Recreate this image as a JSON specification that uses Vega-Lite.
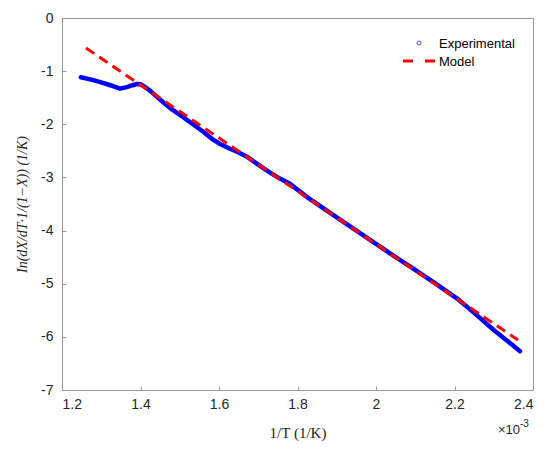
{
  "$schema": "https://vega.github.io/schema/vega-lite/v6.json",
  "width": 471,
  "height": 372,
  "autosize": "none",
  "padding": {"left": 62, "top": 18, "right": 17, "bottom": 62},
  "background": "#ffffff",
  "config": {
    "view": {"stroke": "#999999", "strokeWidth": 1},
    "axis": {
      "domainColor": "#999999",
      "ticks": false,
      "grid": true,
      "gridColor": "#999999",
      "gridOpacity": 1,
      "gridWidth": 1,
      "labelColor": "#262626",
      "labelFont": "Liberation Sans",
      "labelFontSize": 14,
      "titleFont": "Liberation Serif",
      "titleFontWeight": "normal",
      "titleColor": "#262626",
      "titleFontSize": 15
    }
  },
  "datasets": {
    "experimental": [
      {"invT": 0.001248, "lnrate": -1.116},
      {"invT": 0.001275, "lnrate": -1.16},
      {"invT": 0.0013, "lnrate": -1.21},
      {"invT": 0.001325, "lnrate": -1.27},
      {"invT": 0.001348, "lnrate": -1.33},
      {"invT": 0.001365, "lnrate": -1.3},
      {"invT": 0.00138, "lnrate": -1.265},
      {"invT": 0.001392, "lnrate": -1.24},
      {"invT": 0.0014, "lnrate": -1.245},
      {"invT": 0.00141, "lnrate": -1.29},
      {"invT": 0.001425, "lnrate": -1.37},
      {"invT": 0.00144, "lnrate": -1.47},
      {"invT": 0.001457, "lnrate": -1.58},
      {"invT": 0.00148, "lnrate": -1.72},
      {"invT": 0.001508, "lnrate": -1.86},
      {"invT": 0.00153, "lnrate": -1.98},
      {"invT": 0.00156, "lnrate": -2.14},
      {"invT": 0.001585, "lnrate": -2.29},
      {"invT": 0.001603, "lnrate": -2.37},
      {"invT": 0.001628, "lnrate": -2.46},
      {"invT": 0.00165, "lnrate": -2.53},
      {"invT": 0.001671, "lnrate": -2.61},
      {"invT": 0.0017, "lnrate": -2.76},
      {"invT": 0.00173, "lnrate": -2.91},
      {"invT": 0.00175, "lnrate": -3.0},
      {"invT": 0.001781, "lnrate": -3.12},
      {"invT": 0.001798, "lnrate": -3.22},
      {"invT": 0.00183, "lnrate": -3.4},
      {"invT": 0.00187, "lnrate": -3.6},
      {"invT": 0.001916, "lnrate": -3.83},
      {"invT": 0.00195, "lnrate": -4.0},
      {"invT": 0.002, "lnrate": -4.25},
      {"invT": 0.00205, "lnrate": -4.5},
      {"invT": 0.002094, "lnrate": -4.71},
      {"invT": 0.00215, "lnrate": -4.99},
      {"invT": 0.002206, "lnrate": -5.275},
      {"invT": 0.002247, "lnrate": -5.53},
      {"invT": 0.0023, "lnrate": -5.87},
      {"invT": 0.002367, "lnrate": -6.27}
    ],
    "model": [
      {"invT": 0.001261, "lnrate": -0.565},
      {"invT": 0.002362, "lnrate": -6.06}
    ],
    "legendLine": [
      {"invT": 0.0020688, "lnrate": -0.809},
      {"invT": 0.0021503, "lnrate": -0.809}
    ],
    "legendMarker": [
      {"invT": 0.0021096, "lnrate": -0.47}
    ],
    "legendText": [
      {"invT": 0.0021605, "lnrate": -0.489, "label": "Experimental"},
      {"invT": 0.0021605, "lnrate": -0.828, "label": "Model"}
    ],
    "exponent": [
      {"invT": 0.0023669, "lnrate": -7, "base": "×10", "power": "-3"}
    ]
  },
  "encoding": {
    "x": {
      "field": "invT",
      "type": "quantitative",
      "scale": {"domain": [0.0012, 0.0024], "nice": false, "zero": false},
      "axis": {
        "values": [0.0012, 0.0014, 0.0016, 0.0018, 0.002, 0.0022, 0.0024],
        "labelExpr": "toString(round(datum.value * 10000) / 10)",
        "gridDash": [0, 368, 4, 1000],
        "labelPadding": 7,
        "title": "1/T (1/K)",
        "titlePadding": 14
      }
    },
    "y": {
      "field": "lnrate",
      "type": "quantitative",
      "scale": {"domain": [-7, 0], "nice": false, "zero": false},
      "axis": {
        "values": [-7, -6, -5, -4, -3, -2, -1, 0],
        "labelExpr": "toString(datum.value)",
        "gridDash": [4, 1000],
        "labelPadding": 9,
        "title": "In(dX/dT·1/(1−X)) (1/K)",
        "titleFontSize": 14,
        "titleFontStyle": "italic",
        "titlePadding": 11
      }
    }
  },
  "layer": [
    {
      "data": {"name": "experimental"},
      "mark": {"type": "line", "color": "#0000ff", "strokeWidth": 4.5, "strokeCap": "round", "strokeJoin": "round"}
    },
    {
      "data": {"name": "model"},
      "mark": {"type": "line", "color": "#ff0000", "strokeWidth": 3, "strokeDash": [10, 6]}
    },
    {
      "data": {"name": "legendLine"},
      "mark": {"type": "line", "color": "#ff0000", "strokeWidth": 3, "strokeDash": [10, 12]}
    },
    {
      "data": {"name": "legendMarker"},
      "mark": {"type": "point", "shape": "circle", "filled": false, "color": "#0000ff", "size": 16, "strokeWidth": 1}
    },
    {
      "data": {"name": "legendText"},
      "mark": {"type": "text", "align": "left", "baseline": "middle", "font": "Liberation Sans", "fontSize": 13, "color": "#000000"},
      "encoding": {"text": {"field": "label"}}
    },
    {
      "data": {"name": "exponent"},
      "mark": {"type": "text", "align": "right", "baseline": "alphabetic", "dy": 44, "font": "Liberation Sans", "fontSize": 13, "color": "#262626", "clip": false},
      "encoding": {"text": {"field": "base"}}
    },
    {
      "data": {"name": "exponent"},
      "mark": {"type": "text", "align": "left", "baseline": "alphabetic", "dy": 37, "font": "Liberation Sans", "fontSize": 10, "color": "#262626", "clip": false},
      "encoding": {"text": {"field": "power"}}
    }
  ]
}
